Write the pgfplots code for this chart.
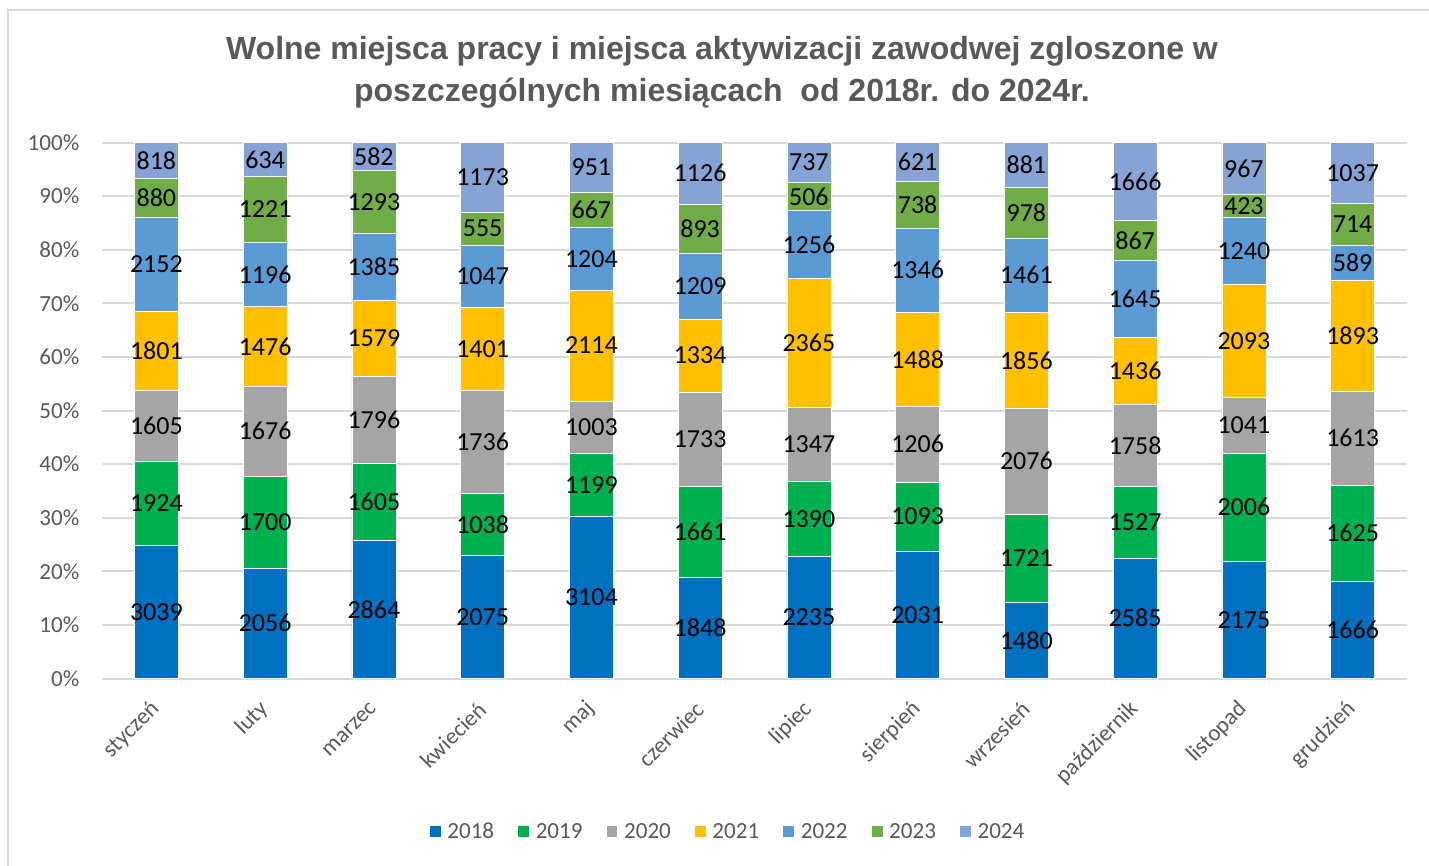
\documentclass[border=0pt]{standalone}
\usepackage{pgfplots}
\pgfplotsset{compat=1.18}
\usepackage{pgfplotstable}
\usepackage{fontspec}
\setmainfont{Carlito}
\newfontfamily\titlefont{Liberation Sans}
\definecolor{cA}{HTML}{0070C0}
\definecolor{cB}{HTML}{00B050}
\definecolor{cC}{HTML}{A5A5A5}
\definecolor{cD}{HTML}{FFC000}
\definecolor{cE}{HTML}{5B9BD5}
\definecolor{cF}{HTML}{70AD47}
\definecolor{cG}{HTML}{86A3D5}
\definecolor{textgray}{HTML}{595959}
\definecolor{gridgray}{HTML}{D9D9D9}
\definecolor{bordergray}{HTML}{D9D9D9}

\pgfplotstableread{
x a b c d e f g
0 3039 1924 1605 1801 2152 880 818
1 2056 1700 1676 1476 1196 1221 634
2 2864 1605 1796 1579 1385 1293 582
3 2075 1038 1736 1401 1047 555 1173
4 3104 1199 1003 2114 1204 667 951
5 1848 1661 1733 1334 1209 893 1126
6 2235 1390 1347 2365 1256 506 737
7 2031 1093 1206 1488 1346 738 621
8 1480 1721 2076 1856 1461 978 881
9 2585 1527 1758 1436 1645 867 1666
10 2175 2006 1041 2093 1240 423 967
11 1666 1625 1613 1893 589 714 1037
}\data
\pgfplotstablecreatecol[create col/expr={\thisrow{a}+\thisrow{b}+\thisrow{c}+\thisrow{d}+\thisrow{e}+\thisrow{f}+\thisrow{g}}]{t}{\data}

\begin{document}
\begin{tikzpicture}
\useasboundingbox (0,0) rectangle (1071.75pt,649.5pt);
\fill[white] (0,0) rectangle (1071.75pt,649.5pt);
\draw[bordergray, line width=1.2pt] (6pt,-2pt) -- (6pt,642pt) -- (1075pt,642pt);
\node[align=center, text=textgray, font=\titlefont\bfseries\fontsize{24}{31.5}\selectfont] at (541.5pt,595.5pt)
  {Wolne miejsca pracy i miejsca aktywizacji zawodwej zgloszone w\\poszczególnych miesiącach\ \ od 2018r. do 2024r.};

\begin{axis}[
  at={(76.5pt,140.6pt)}, anchor=south west,
  width=978.75pt, height=402pt, scale only axis,
  ybar stacked, bar width=33pt,
  xmin=-0.5, xmax=11.5, ymin=0, ymax=100,
  xtick={0,...,11},
  xticklabels={styczeń,luty,marzec,kwiecień,maj,czerwiec,lipiec,sierpień,wrzesień,październik,listopad,grudzień},
  ytick={0,10,...,100},
  yticklabel={\pgfmathprintnumber{\tick}\%},
  /pgf/number format/assume math mode=true,
  ymajorgrids, grid style={color=gridgray, line width=1.5pt},
  axis line style={draw=none},
  major tick length=0pt,
  tick label style={font=\fontsize{17.3}{20}\selectfont, text=textgray},
  yticklabel style={xshift=-13.5pt},
  xticklabel style={yshift=-18pt, xshift=2pt, rotate=45, anchor=east},
  legend style={at={(0.48,-0.286)}, anchor=center, draw=none, fill=none,
    font=\fontsize{17.3}{20}\selectfont, text=textgray,
    legend columns=7,
    /tikz/every odd column/.append style={column sep=3pt},
    /tikz/every even column/.append style={column sep=16pt}},
  legend image code/.code={\fill[#1,draw=none] (0pt,-4.1pt) rectangle (8.2pt,4.1pt);},
]
\addplot[fill=cA, draw=white, line width=0.4pt] table[x=x, y expr=\thisrow{a}/\thisrow{t}*100] {\data};
\addplot[fill=cB, draw=white, line width=0.4pt] table[x=x, y expr=\thisrow{b}/\thisrow{t}*100] {\data};
\addplot[fill=cC, draw=white, line width=0.4pt] table[x=x, y expr=\thisrow{c}/\thisrow{t}*100] {\data};
\addplot[fill=cD, draw=white, line width=0.4pt] table[x=x, y expr=\thisrow{d}/\thisrow{t}*100] {\data};
\addplot[fill=cE, draw=white, line width=0.4pt] table[x=x, y expr=\thisrow{e}/\thisrow{t}*100] {\data};
\addplot[fill=cF, draw=white, line width=0.4pt] table[x=x, y expr=\thisrow{f}/\thisrow{t}*100] {\data};
\addplot[fill=cG, draw=white, line width=0.4pt] table[x=x, y expr=\thisrow{g}/\thisrow{t}*100] {\data};
\legend{2018,2019,2020,2021,2022,2023,2024}
\end{axis}

\begin{axis}[
  at={(76.5pt,140.6pt)}, anchor=south west,
  width=978.75pt, height=402pt, scale only axis,
  xmin=-0.5, xmax=11.5, ymin=0, ymax=100,
  hide axis, clip=false,
  nodes near coords, point meta=explicit symbolic,
  every node near coord/.style={anchor=center, font=\fontsize{19.5}{20}\selectfont, text=black, inner sep=0pt},
]
\addplot[draw=none, mark=none] table[x=x, meta=a, y expr={(0.5*\thisrow{a})/\thisrow{t}*100}] {\data};
\addplot[draw=none, mark=none] table[x=x, meta=b, y expr={(\thisrow{a}+0.5*\thisrow{b})/\thisrow{t}*100}] {\data};
\addplot[draw=none, mark=none] table[x=x, meta=c, y expr={(\thisrow{a}+\thisrow{b}+0.5*\thisrow{c})/\thisrow{t}*100}] {\data};
\addplot[draw=none, mark=none] table[x=x, meta=d, y expr={(\thisrow{a}+\thisrow{b}+\thisrow{c}+0.5*\thisrow{d})/\thisrow{t}*100}] {\data};
\addplot[draw=none, mark=none] table[x=x, meta=e, y expr={(\thisrow{a}+\thisrow{b}+\thisrow{c}+\thisrow{d}+0.5*\thisrow{e})/\thisrow{t}*100}] {\data};
\addplot[draw=none, mark=none] table[x=x, meta=f, y expr={(\thisrow{a}+\thisrow{b}+\thisrow{c}+\thisrow{d}+\thisrow{e}+0.5*\thisrow{f})/\thisrow{t}*100}] {\data};
\addplot[draw=none, mark=none] table[x=x, meta=g, y expr={(\thisrow{a}+\thisrow{b}+\thisrow{c}+\thisrow{d}+\thisrow{e}+\thisrow{f}+0.5*\thisrow{g})/\thisrow{t}*100}] {\data};
\end{axis}
\end{tikzpicture}
\end{document}
